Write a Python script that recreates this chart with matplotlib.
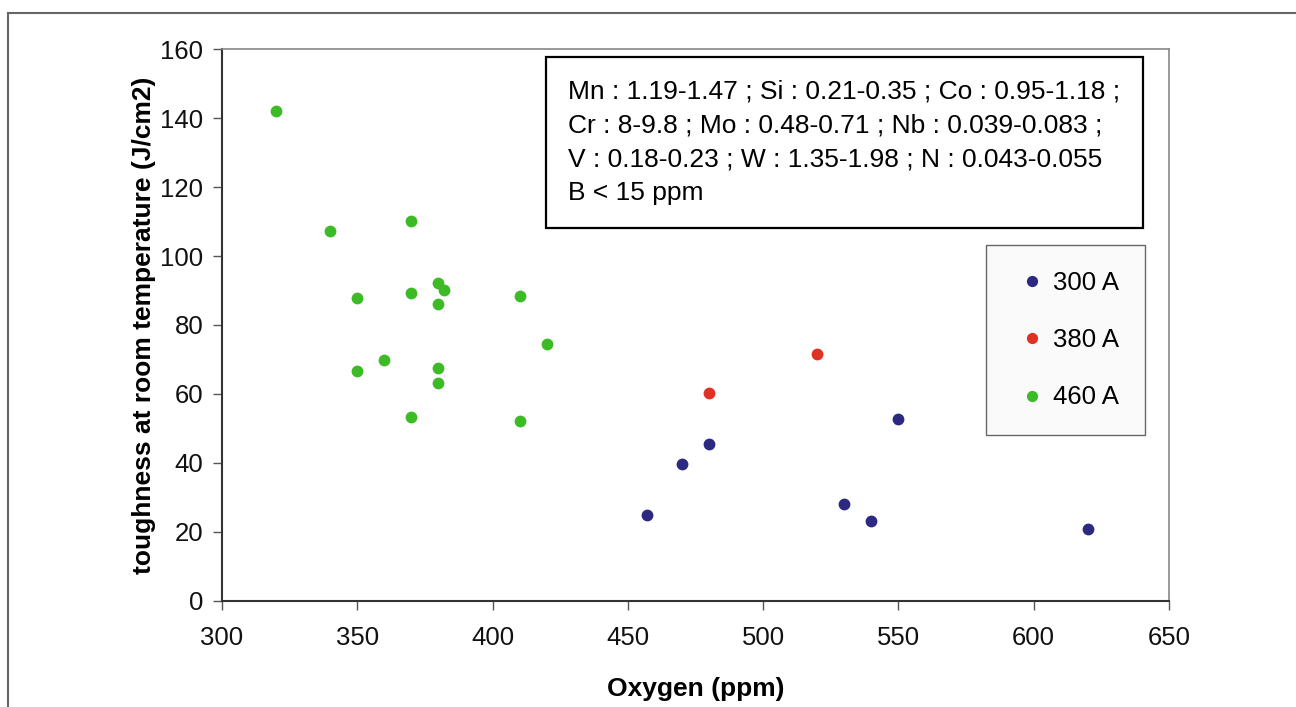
import matplotlib.pyplot as plt
from matplotlib.lines import Line2D

plt.rcParams['font.family'] = ['Liberation Sans', 'DejaVu Sans']

# oxygen (ppm) and toughness (J/cm2) per welding current
x_300 = [457, 470, 480, 530, 540, 550, 620]
y_300 = [25, 39.7, 45.6, 28, 23.2, 52.6, 20.8]

x_380 = [480, 520]
y_380 = [60.3, 71.5]

x_460 = [320, 340, 370, 350, 370, 380, 382, 380, 410, 420, 360, 350, 380, 380, 370, 410]
y_460 = [142, 107.3, 110.3, 87.9, 89.2, 92.1, 90.2, 86.2, 88.5, 74.4, 69.8, 66.7, 67.4, 63.3, 53.2, 52.1]

labels = ["300 A", "380 A", "460 A"]
colors = ["#2b2a80", "#e03222", "#3dbb27"]

composition = ("Mn : 1.19-1.47 ; Si : 0.21-0.35 ; Co : 0.95-1.18 ;\n"
               "Cr : 8-9.8 ; Mo : 0.48-0.71 ; Nb : 0.039-0.083 ;\n"
               "V : 0.18-0.23 ; W : 1.35-1.98 ; N : 0.043-0.055\n"
               "B < 15 ppm")

fig = plt.figure(figsize=(12.96, 7.07), dpi=100)
ax = fig.add_axes([222 / 1296, 1 - 600.7 / 707, (1169 - 222) / 1296, (600.7 - 49.3) / 707])

series = [(x_300, y_300), (x_380, y_380), (x_460, y_460)]
for (xs, ys), lab, col in zip(series, labels, colors):
    ax.plot(xs, ys, linestyle="none", marker="o", markersize=8.5,
            markeredgewidth=0, color=col, label=lab)

ax.set_xlim(300, 650)
ax.set_ylim(0, 160)
ax.set_xticks(range(300, 651, 50))
ax.set_yticks(range(0, 161, 20))
ax.tick_params(direction="out", length=6.5, width=1, color="#555555",
               labelsize=18.5, labelcolor="#111111")
ax.tick_params(axis="y", pad=7)
ax.tick_params(axis="x", pad=12)

for side in ["left", "bottom"]:
    ax.spines[side].set_color("#333333")
    ax.spines[side].set_linewidth(1.5)
for side in ["top", "right"]:
    ax.spines[side].set_color("#888888")
    ax.spines[side].set_linewidth(1.2)

ax.set_xlabel("Oxygen (ppm)", fontsize=19, fontweight="bold", labelpad=19)
ax.set_ylabel("toughness at room temperature (J/cm2)", fontsize=19,
              fontweight="bold", labelpad=3)

# composition box
ax.text(568 / 1296, 1 - 79 / 707, composition, transform=fig.transFigure,
        fontsize=19, va="top", ha="left", linespacing=1.53,
        bbox=dict(boxstyle="square,pad=0.85", facecolor="white",
                  edgecolor="black", linewidth=1.6))

leg = ax.legend(loc="upper left", bbox_to_anchor=(986 / 1296, 1 - 245 / 707),
                bbox_transform=fig.transFigure, fontsize=18.5, markerscale=0.95,
                numpoints=1, handlelength=1.6, handletextpad=0.0,
                labelspacing=1.3, borderpad=1.0, borderaxespad=0,
                fancybox=False, framealpha=1)
leg.get_frame().set_facecolor("#fafafa")
leg.get_frame().set_edgecolor("#666666")
leg.get_frame().set_linewidth(1)

# outer chart frame
fig.add_artist(Line2D([8 / 1296, 1], [1 - 12.7 / 707, 1 - 12.7 / 707],
                      transform=fig.transFigure, color="#666666", linewidth=1.5))
fig.add_artist(Line2D([8 / 1296, 8 / 1296], [0, 1 - 12.7 / 707],
                      transform=fig.transFigure, color="#666666", linewidth=1.5))

fig.savefig("out.png", dpi=100)
